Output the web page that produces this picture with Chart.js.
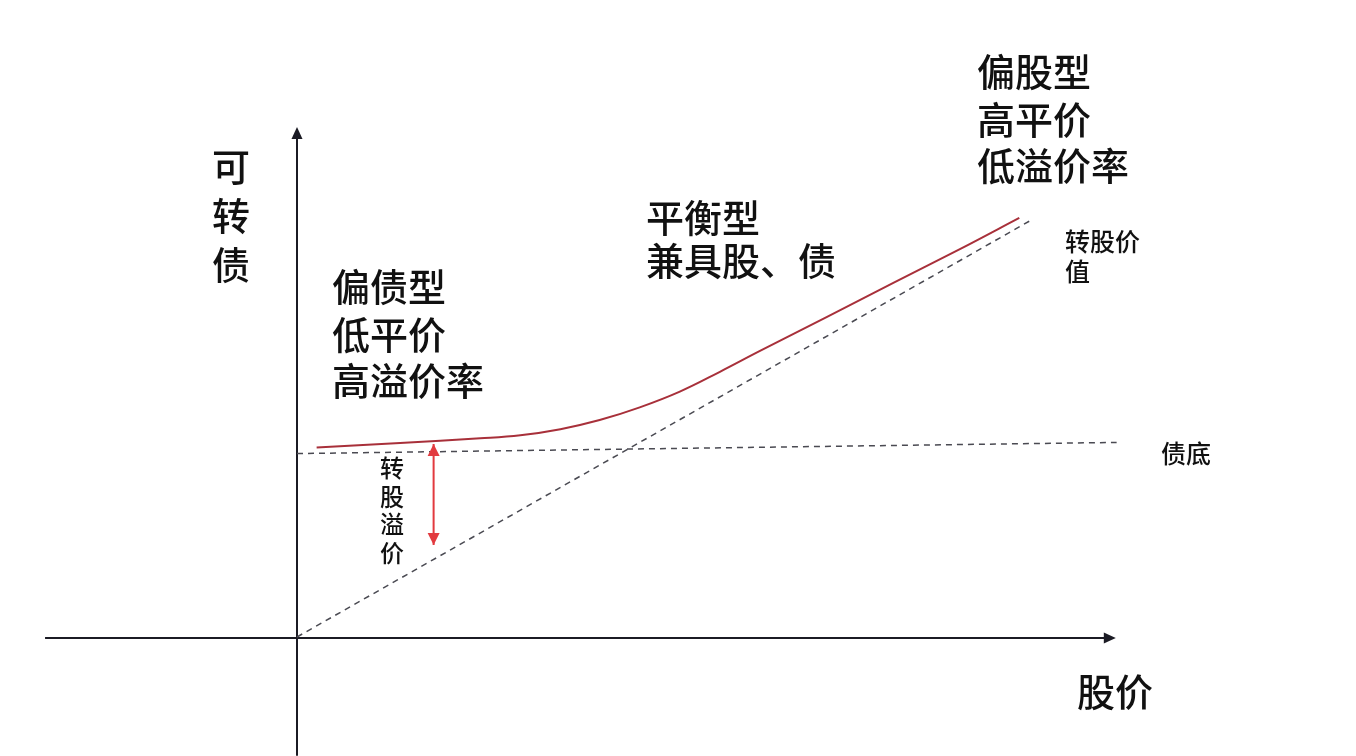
<!DOCTYPE html>
<html>
<head>
<meta charset="utf-8">
<script src="https://cdn.jsdelivr.net/npm/chart.js@4.4.6/dist/chart.umd.min.js"></script>
<style>
  html, body { margin: 0; padding: 0; background: #fff; }
  #wrap { width: 1356px; height: 756px; position: relative; }
</style>
</head>
<body>
<div id="wrap"><canvas id="c"></canvas></div>
<script>
  // 股价 on x, 可转债价格 on y, both in arbitrary 0-100 units
  const curveX = [2.4, 12.6, 22.4, 27.3, 32.2, 37.0, 41.9, 46.8, 51.7, 56.6, 64.8, 72.9, 81.1, 88.3];
  const curveY = [37.5, 38.4, 39.3, 39.9, 41.1, 42.9, 45.4, 48.5, 52.4, 56.5, 63.2, 69.9, 76.6, 82.7];
  const convValueX = [0, 89.8];
  const convValueY = [0.2, 82.3];
  const bondFloorX = [0, 100.2];
  const bondFloorY = [36.3, 38.5];
  const premiumX = [16.7, 16.7];
  const premiumY = [38.2, 18.3];
  const xAxisRange = [-30.8, 100.1];
  const yAxisRange = [-23.2, 100.6];

  function pts(xs, ys) {
    return xs.map((x, i) => ({ x, y: ys[i] }));
  }

  const FONT = '"Noto Sans CJK SC", "Noto Sans", sans-serif';
  const texts = [
    // [text, x, y, size, align]
    ["可", 231, 167, 38, "center"],
    ["转", 231, 216, 38, "center"],
    ["债", 231, 265, 38, "center"],
    ["偏债型", 332, 287, 38, "left"],
    ["低平价", 332, 335, 38, "left"],
    ["高溢价率", 332, 381, 38, "left"],
    ["平衡型", 646, 218, 38, "left"],
    ["兼具股、债", 646, 261, 38, "left"],
    ["偏股型", 977, 72, 38, "left"],
    ["高平价", 977, 120, 38, "left"],
    ["低溢价率", 977, 166, 38, "left"],
    ["转股价", 1065, 241, 25, "left"],
    ["值", 1065, 271, 25, "left"],
    ["债底", 1161, 453, 25, "left"],
    ["转", 392, 468, 24, "center"],
    ["股", 392, 497, 24, "center"],
    ["溢", 392, 524, 24, "center"],
    ["价", 392, 553, 24, "center"],
    ["股价", 1077, 692, 38, "left"]
  ];

  function head(ctx, x, y, dx, dy, len, half, color) {
    ctx.fillStyle = color;
    ctx.beginPath();
    ctx.moveTo(x, y);
    ctx.lineTo(x - dx * len - dy * half, y - dy * len + dx * half);
    ctx.lineTo(x - dx * len + dy * half, y - dy * len - dx * half);
    ctx.closePath();
    ctx.fill();
  }

  const diagram = {
    id: "diagram",
    beforeDatasetsDraw(chart) {
      const { ctx, scales: { x, y } } = chart;
      const x0 = x.getPixelForValue(0), y0 = y.getPixelForValue(0);
      const xl = x.getPixelForValue(xAxisRange[0]), xr = x.getPixelForValue(xAxisRange[1]);
      const yb = y.getPixelForValue(yAxisRange[0]), yt = y.getPixelForValue(yAxisRange[1]);
      ctx.save();
      ctx.strokeStyle = "#1b1b24";
      ctx.lineWidth = 2;
      ctx.beginPath();
      ctx.moveTo(xl, y0); ctx.lineTo(xr - 8, y0);
      ctx.moveTo(x0, yb); ctx.lineTo(x0, yt + 8);
      ctx.stroke();
      head(ctx, xr, y0, 1, 0, 12, 5.5, "#1b1b24");
      head(ctx, x0, yt, 0, -1, 12, 5.5, "#1b1b24");
      ctx.restore();
    },
    afterDatasetsDraw(chart) {
      const { ctx, scales: { x, y } } = chart;
      ctx.save();
      // premium arrow heads
      const px = x.getPixelForValue(premiumX[0]);
      head(ctx, px, y.getPixelForValue(premiumY[0]), 0, -1, 12, 6, "#e23a3f");
      head(ctx, px, y.getPixelForValue(premiumY[1]), 0, 1, 12, 6, "#e23a3f");
      ctx.fillStyle = "#111";
      ctx.textBaseline = "middle";
      texts.forEach(([t, tx, ty, size, align]) => {
        ctx.font = "500 " + size + "px " + FONT;
        ctx.textAlign = align;
        ctx.fillText(t, tx, ty);
      });
      ctx.restore();
    }
  };

  new Chart(document.getElementById("c"), {
    type: "scatter",
    data: {
      datasets: [
        {
          label: "转股价值",
          data: pts(convValueX, convValueY),
          showLine: true,
          borderColor: "#4a4a52",
          borderWidth: 1.5,
          borderDash: [6, 5],
          pointRadius: 0,
          clip: false
        },
        {
          label: "债底",
          data: pts(bondFloorX, bondFloorY),
          showLine: true,
          borderColor: "#4a4a52",
          borderWidth: 1.5,
          borderDash: [6, 5],
          pointRadius: 0,
          clip: false
        },
        {
          label: "可转债",
          data: pts(curveX, curveY),
          showLine: true,
          borderColor: "#a8303a",
          borderWidth: 2,
          tension: 0.4,
          pointRadius: 0,
          clip: false
        },
        {
          label: "转股溢价",
          data: pts(premiumX, premiumY),
          showLine: true,
          borderColor: "#e23a3f",
          borderWidth: 2,
          pointRadius: 0,
          clip: false
        }
      ]
    },
    options: {
      responsive: true,
      maintainAspectRatio: false,
      animation: false,
      layout: { padding: { left: 297, right: 241, top: 130, bottom: 118 } },
      scales: {
        x: { type: "linear", min: 0, max: 100, display: false },
        y: { type: "linear", min: 0, max: 100, display: false }
      },
      plugins: {
        legend: { display: false },
        tooltip: { enabled: false }
      }
    },
    plugins: [diagram]
  });
</script>
</body>
</html>
